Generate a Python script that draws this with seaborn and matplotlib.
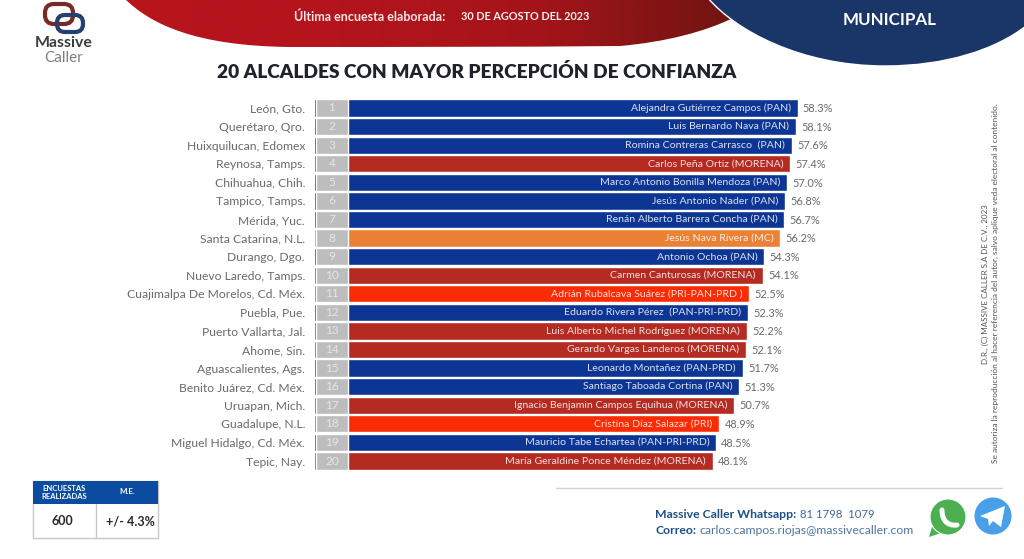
import numpy as np
import pandas as pd
import matplotlib
matplotlib.use("Agg")
import matplotlib.pyplot as plt
from matplotlib.path import Path
from matplotlib.patches import PathPatch, Circle, Rectangle, FancyBboxPatch, Polygon
from matplotlib.colors import LinearSegmentedColormap
import seaborn as sns

ciudades = ["León, Gto.", "Querétaro, Qro.", "Huixquilucan, Edomex", "Reynosa, Tamps.",
            "Chihuahua, Chih.", "Tampico, Tamps.", "Mérida, Yuc.", "Santa Catarina, N.L.",
            "Durango, Dgo.", "Nuevo Laredo, Tamps.", "Cuajimalpa De Morelos, Cd. Méx.",
            "Puebla, Pue.", "Puerto Vallarta, Jal.", "Ahome, Sin.", "Aguascalientes, Ags.",
            "Benito Juárez, Cd. Méx.", "Uruapan, Mich.", "Guadalupe, N.L.",
            "Miguel Hidalgo, Cd. Méx.", "Tepic, Nay."]
alcaldes = ["Alejandra Gutiérrez Campos (PAN)", "Luis Bernardo Nava (PAN)",
            "Romina Contreras Carrasco  (PAN)", "Carlos Peña Ortiz (MORENA)",
            "Marco Antonio Bonilla Mendoza (PAN)", "Jesús Antonio Nader (PAN)",
            "Renán Alberto Barrera Concha (PAN)", "Jesús Nava Rivera (MC)",
            "Antonio Ochoa (PAN)", "Carmen Canturosas (MORENA)",
            "Adrián Rubalcava Suárez (PRI-PAN-PRD )", "Eduardo Rivera Pérez  (PAN-PRI-PRD)",
            "Luis Alberto Michel Rodríguez (MORENA)", "Gerardo Vargas Landeros (MORENA)",
            "Leonardo Montañez (PAN-PRD)", "Santiago Taboada Cortina (PAN)",
            "Ignacio Benjamin Campos Equihua (MORENA)", "Cristina Díaz Salazar (PRI)",
            "Mauricio Tabe Echartea (PAN-PRI-PRD)", "María Geraldine Ponce Méndez (MORENA)"]
valores = [58.3, 58.1, 57.6, 57.4, 57.0, 56.8, 56.7, 56.2, 54.3, 54.1,
           52.5, 52.3, 52.2, 52.1, 51.7, 51.3, 50.7, 48.9, 48.5, 48.1]
grupos = ["PAN", "PAN", "PAN", "MORENA", "PAN", "PAN", "PAN", "MC", "PAN", "MORENA",
          "PRI", "PAN", "MORENA", "MORENA", "PAN", "PAN", "MORENA", "PRI", "PAN", "MORENA"]
colores = {"PAN": "#0C3594", "MORENA": "#B52B22", "MC": "#EA8235", "PRI": "#FA2C06"}

W, H = 1024, 559
FONT = "Lato"
GREY = "#6a6a6a"
sns.set_theme(style="white")
plt.rcParams["font.family"] = [FONT, "DejaVu Sans"]

fig = plt.figure(figsize=(W / 100, H / 100), dpi=100, facecolor="white")

# Page layer in pixel coordinates
bg = fig.add_axes([0, 0, 1, 1], zorder=0)
bg.set_xlim(0, W); bg.set_ylim(H, 0); bg.axis("off")

def curve(pts):
    codes = [Path.MOVETO] + [Path.CURVE4] * (len(pts) - 2) + [Path.CLOSEPOLY]
    return Path(pts, codes)

red_path = curve([(124, -2), (150, 24), (195, 46), (290, 47), (400, 47), (510, 47), (620, 46),
                  (665, 42), (705, 32), (735, 17), (745, 10), (750, 5), (750, -2), (124, -2)])
grad = LinearSegmentedColormap.from_list("g", ["#B8141C", "#B5141C", "#A5141A", "#6F1412"])
im = bg.imshow(np.linspace(0, 1, 256).reshape(1, -1), cmap=grad, extent=(120, 740, H, 0),
               aspect="auto", zorder=1)
im.set_clip_path(PathPatch(red_path, transform=bg.transData))
bg.set_xlim(0, W); bg.set_ylim(H, 0)

navy_path = curve([(708, -2), (735, 30), (800, 66), (885, 66), (945, 66), (995, 50), (1026, 26),
                   (1026, 15), (1026, 5), (1026, -2), (708, -2)])
bg.add_patch(PathPatch(navy_path, fc="#1A3668", ec="white", lw=1, zorder=2))

bg.text(370, 17, "Última encuesta elaborada:", color="#f3e6e6", fontsize=9.0, weight="bold",
        ha="center", va="center", zorder=3)
bg.text(525, 17, "30 DE AGOSTO DEL 2023", color="#f6eeee", fontsize=7.8, weight="bold",
        ha="center", va="center", zorder=3)
bg.text(890, 20, "MUNICIPAL", color="white", fontsize=12.2, weight="bold",
        ha="center", va="center", zorder=3)
bg.text(477, 72, "20 ALCALDES CON MAYOR PERCEPCIÓN DE CONFIANZA", color="#20222b", fontsize=13.8,
        weight="heavy", ha="center", va="center")

# Logo
bg.add_patch(FancyBboxPatch((45, 4), 28, 20, boxstyle="round,pad=0,rounding_size=9",
                            fc="none", ec="#7A2A25", lw=3, zorder=3))
bg.add_patch(FancyBboxPatch((57, 15), 26, 17, boxstyle="round,pad=0,rounding_size=8",
                            fc="none", ec="#24406E", lw=3, zorder=3))
bg.text(64, 43, "Massive", color="#3c3c3c", fontsize=11.4, weight="bold", ha="center", va="center")
bg.text(64, 58, "Caller", color="#808080", fontsize=11, ha="center", va="center")

# Survey table
bg.add_patch(Rectangle((33, 481), 125, 57, fc="white", ec="#c8c8c8", lw=1))
bg.add_patch(Rectangle((33, 481), 125, 23, fc="#0B4BA0", ec="none"))
bg.plot([95.5, 95.5], [504, 538], color="#c8c8c8", lw=1)
bg.text(64, 492.5, "ENCUESTAS\nREALIZADAS", color="white", fontsize=5.5, weight="bold",
        ha="center", va="center", linespacing=1.25)
bg.text(127, 492, "M.E.", color="white", fontsize=5.8, weight="bold", ha="center", va="center")
bg.text(62, 521, "600", color="#2a2a2a", fontsize=9, weight="bold", ha="center", va="center")
bg.text(130, 521, "+/- 4.3%", color="#2a2a2a", fontsize=9, weight="bold", ha="center", va="center")

# Footer
bg.plot([556, 1002], [487.5, 487.5], color="#d4d4d4", lw=1)
bg.text(655, 514, "Massive Caller Whatsapp:", color="#1D4F86", fontsize=8.8, weight="bold",
        ha="left", va="center")
bg.text(800, 514, "81 1798  1079", color="#3D6A9A", fontsize=8.2, ha="left", va="center")
bg.text(655, 530, "Correo:", color="#1D4F86", fontsize=8.8, weight="bold", ha="left", va="center")
bg.text(699, 530, "carlos.campos.riojas@massivecaller.com", color="#4D769F", fontsize=8.85,
        ha="left", va="center")
bg.add_patch(Polygon([(932, 527), (929, 537), (941, 533)], fc="#4CAF50", ec="none", zorder=3))
bg.add_patch(Circle((948, 517), 18, fc="#4CAF50", ec="white", lw=0.8, zorder=3))
handset = Path([(942, 510), (942, 521), (948, 526), (957, 525)],
               [Path.MOVETO, Path.CURVE4, Path.CURVE4, Path.CURVE4])
bg.add_patch(PathPatch(handset, fc="none", ec="white", lw=3.6, capstyle="round", zorder=4))
bg.add_patch(Circle((993, 516), 18.5, fc="#4A9FEA", ec="none", zorder=3))
bg.add_patch(Polygon([(980, 516), (1005, 506), (1001, 527), (993, 521), (989, 526), (988, 519)],
                     fc="white", ec="none", zorder=4))

# Legal notes
bg.text(985, 284, "D.R., (C) MASSIVE CALLER S.A DE C.V., 2023", color="#555555", fontsize=5.8,
        rotation=90, ha="center", va="center")
bg.text(995, 283, "Se autoriza la reproducción al hacer referencia del autor, salvo aplique veda electoral al contenido.",
        color="#555555", fontsize=6.0, rotation=90, ha="center", va="center")

# Bar chart
PX = 8.33
left, right = 312, 900
top, bottom = 98.7, 470.3
ax = fig.add_axes([left / W, 1 - bottom / H, (right - left) / W, (bottom - top) / H], zorder=1)
ax.patch.set_alpha(0)
df = pd.DataFrame({"ciudad": ciudades, "valor": valores, "grupo": grupos})
sns.barplot(data=df, y="ciudad", x="valor", hue="grupo", palette=colores, dodge=False,
            width=0.93, legend=False, ax=ax, saturation=1)
ax.set_xlim(0, (right - left) / PX)
ax.set_ylim(19.5, -0.5)
ax.set_xlabel(""); ax.set_ylabel("")
ax.set_xticks([])
ax.tick_params(axis="y", length=0, pad=5, labelsize=8.7, labelcolor=GREY)
for s in ax.spines.values():
    s.set_visible(False)

for i, (nombre, v) in enumerate(zip(alcaldes, valores)):
    ax.barh(i, 3.87, left=0.45, height=0.93, color="#BDBDBD", zorder=3)
    ax.barh(i, 0.22, left=0, height=0.95, color="white", zorder=3)
    ax.text(2.4, i, str(i + 1), color="#e6e6e6", fontsize=8.6, ha="center", va="center", zorder=4)
    ax.annotate(nombre, (v, i), xytext=(-4.8, 0), textcoords="offset points", color="white",
                alpha=0.85, fontsize=7.55, ha="right", va="center", zorder=4)
    ax.annotate(f"{v:.1f}%", (v, i), xytext=(3.8, -0.5), textcoords="offset points", color=GREY,
                fontsize=7.9, ha="left", va="center", zorder=4)

fig.savefig("out.png", dpi=100, facecolor="white")
